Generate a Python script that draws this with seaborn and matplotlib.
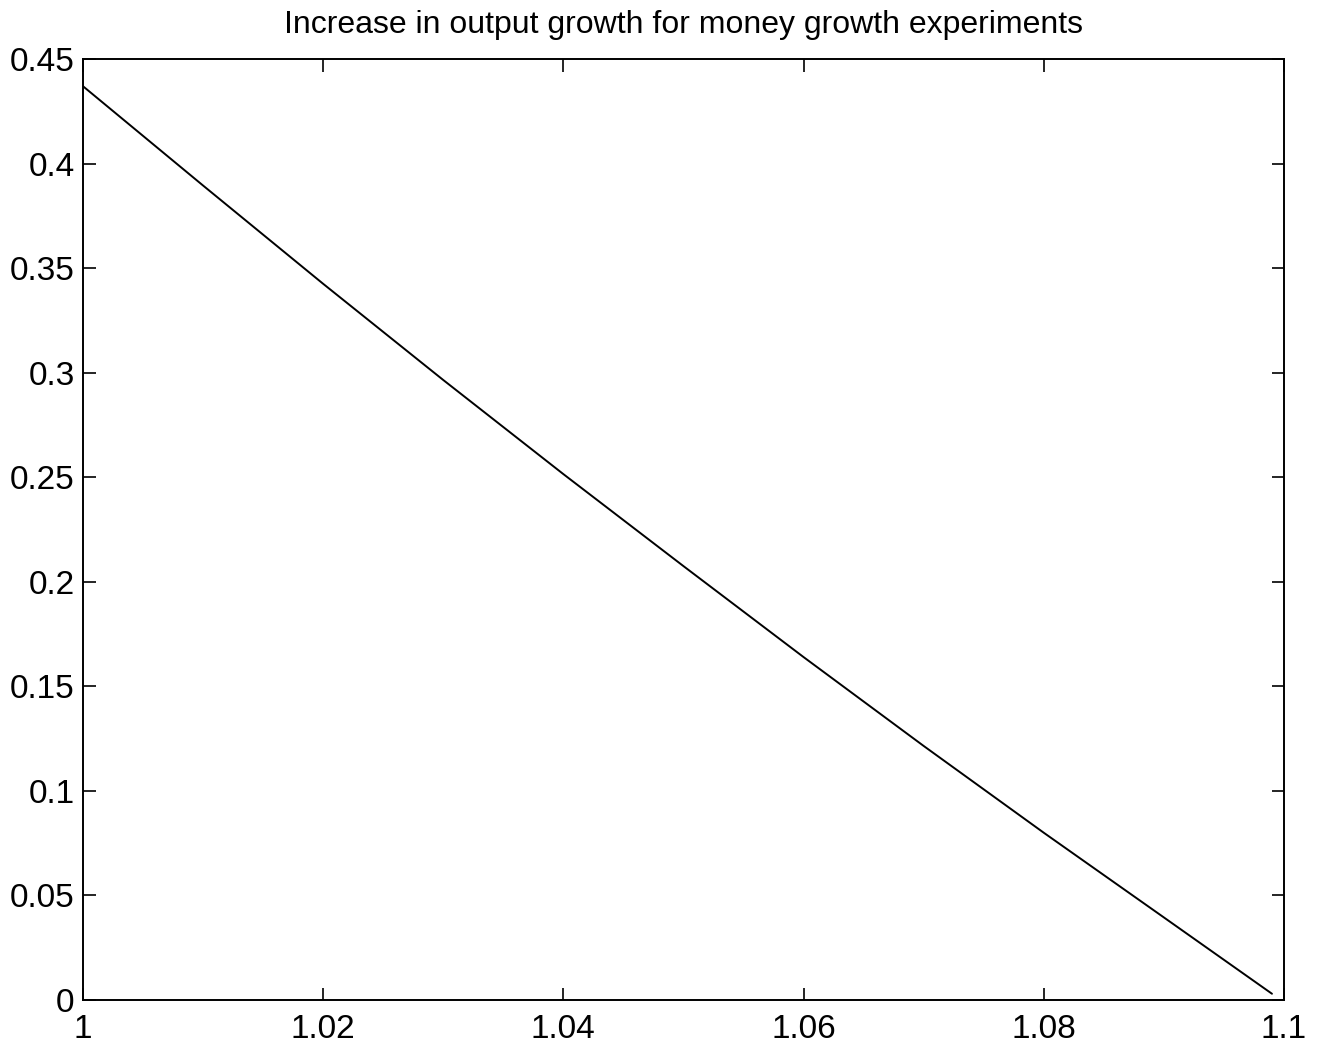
import pandas as pd
import seaborn as sns
import matplotlib
matplotlib.use("Agg")
import matplotlib.pyplot as plt

# values
money_growth = [1.00, 1.01, 1.02, 1.03, 1.04, 1.05, 1.06, 1.07, 1.08, 1.09, 1.099]
output_increase = [0.437, 0.3895, 0.3425, 0.2965, 0.2515, 0.2075, 0.164, 0.1215, 0.080, 0.0395, 0.003]
x_ticks = [1, 1.02, 1.04, 1.06, 1.08, 1.1]
x_labels = ["1", "1.02", "1.04", "1.06", "1.08", "1.1"]
y_ticks = [0, 0.05, 0.1, 0.15, 0.2, 0.25, 0.3, 0.35, 0.4, 0.45]
y_labels = ["0", "0.05", "0.1", "0.15", "0.2", "0.25", "0.3", "0.35", "0.4", "0.45"]

df = pd.DataFrame({"money_growth": money_growth, "output_increase": output_increase})

sns.set_style("white")
plt.rcParams["font.family"] = ["Liberation Sans", "DejaVu Sans"]
plt.rcParams["text.color"] = "black"
plt.rcParams["xtick.color"] = "black"
plt.rcParams["ytick.color"] = "black"

fig = plt.figure(figsize=(13.23, 10.5), dpi=100)
ax = fig.add_axes([0.0627, 0.0476, 0.9078, 0.8962])

sns.lineplot(data=df, x="money_growth", y="output_increase", color="black",
             linewidth=1.4, ax=ax)

ax.set_xlim(1, 1.1)
ax.set_ylim(0, 0.45)
ax.set_xticks(x_ticks)
ax.set_xticklabels(x_labels)
ax.set_yticks(y_ticks)
ax.set_yticklabels(y_labels)
ax.set_xlabel("")
ax.set_ylabel("")
ax.tick_params(direction="in", length=9, width=1.2, labelsize=24,
               top=True, right=True, bottom=True, left=True)
ax.tick_params(axis="x", pad=10)
ax.tick_params(axis="y", pad=6)
for s in ax.spines.values():
    s.set_color("black")
    s.set_linewidth(1.4)
ax.set_title("Increase in output growth for money growth experiments",
             fontsize=23, pad=19, color="black")

fig.savefig("out.png", dpi=100)
